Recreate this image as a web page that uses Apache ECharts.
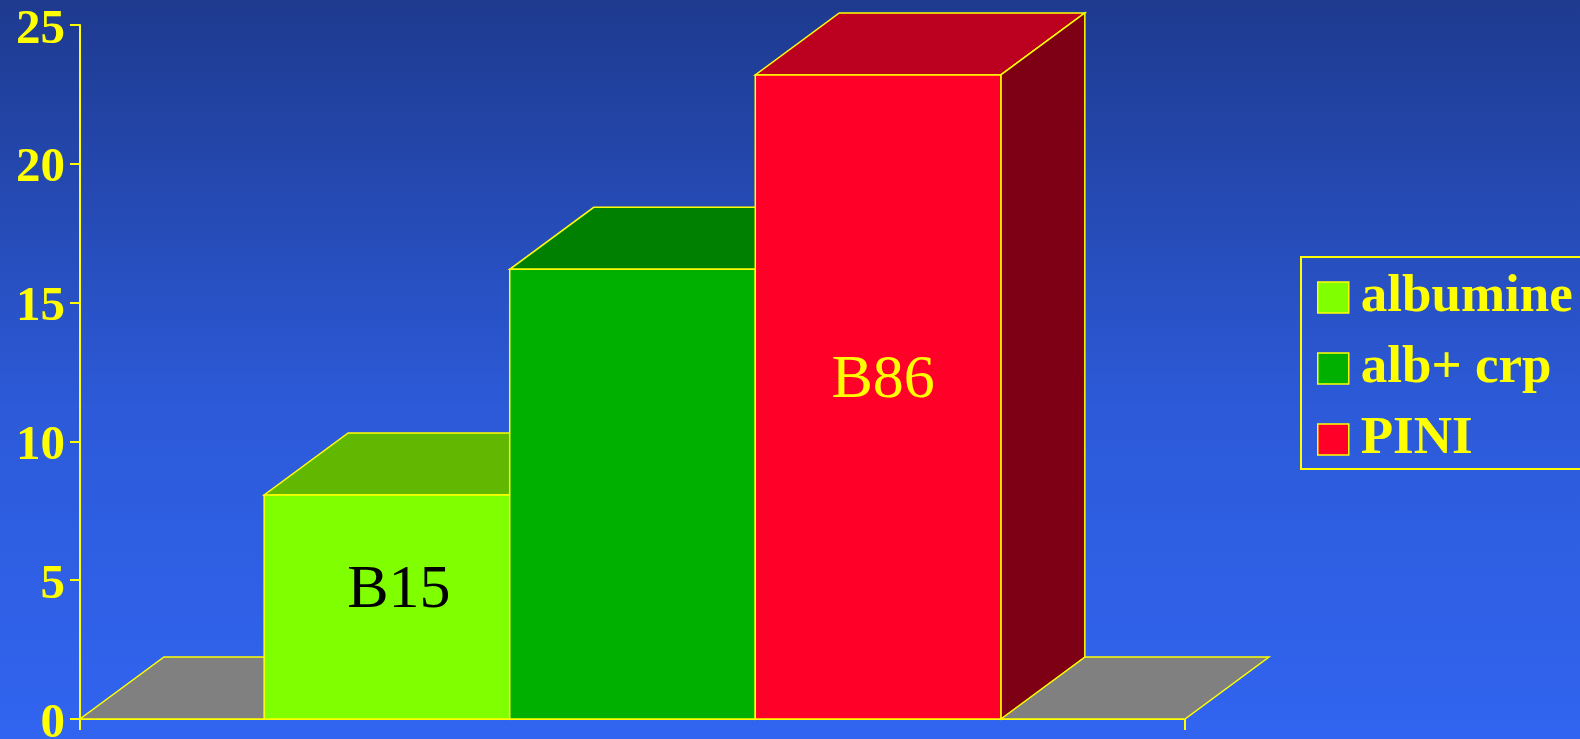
<!DOCTYPE html>
<html>
<head>
<meta charset="utf-8">
<script src="https://cdn.jsdelivr.net/npm/echarts@6/dist/echarts.min.js"></script>
<style>
  html, body { margin: 0; padding: 0; }
  #chart { width: 1580px; height: 739px; }
</style>
</head>
<body>
<div id="chart"></div>
<script>
// ---- data ----
var categories = [''];
var seriesNames = ['albumine', 'alb+ crp', 'PINI'];
var seriesValues = [8.07, 16.2, 23.2];
var barLabels = ['B15', '', 'B86'];
var barLabelValues = [4.63, 0, 12.2];
var yTicks = [0, 5, 10, 15, 20, 25];

// ---- styles ----
var frontColors = ['#80FF00', '#00B000', '#FF0029'];
var topColors = ['#62B800', '#008000', '#BC0020'];
var sideColors = ['#4A8C00', '#006000', '#7D0015'];
var labelColors = ['#000000', '#FFFF00', '#FFFF00'];
var labelDx = [12, 0, 5];
var EDGE = '#FFFF00';
var DX = 84, DY = 62;

var chart = echarts.init(document.getElementById('chart'));

function barSeries(idx) {
  return {
    type: 'custom',
    name: seriesNames[idx],
    z: 3 + idx,
    itemStyle: { color: frontColors[idx] },
    data: [[0, seriesValues[idx]]],
    renderItem: function (params, api) {
      var base = api.coord([api.value(0), 0]);
      var top = api.coord([api.value(0), api.value(1)]);
      var band = api.size([1, 0])[0];
      var w = band * 2 / 9;
      var x0 = base[0] - 1.5 * w + idx * w;
      var x1 = x0 + w;
      var yb = base[1], yt = top[1];
      var lineStyle = { stroke: EDGE, lineWidth: 1.5 };
      var children = [
        { type: 'polygon', shape: { points: [[x0, yt], [x1, yt], [x1 + DX, yt - DY], [x0 + DX, yt - DY]] },
          style: Object.assign({ fill: topColors[idx] }, lineStyle) },
        { type: 'polygon', shape: { points: [[x1, yt], [x1 + DX, yt - DY], [x1 + DX, yb - DY], [x1, yb]] },
          style: Object.assign({ fill: sideColors[idx] }, lineStyle) },
        { type: 'rect', shape: { x: x0, y: yt, width: w, height: yb - yt },
          style: Object.assign({ fill: frontColors[idx] }, lineStyle) }
      ];
      if (barLabels[idx]) {
        var lp = api.coord([api.value(0), barLabelValues[idx]]);
        children.push({
          type: 'text',
          style: {
            x: (x0 + x1) / 2 + labelDx[idx], y: lp[1],
            text: barLabels[idx],
            fill: labelColors[idx],
            font: 'normal 62px "Liberation Serif"',
            align: 'center', verticalAlign: 'middle'
          }
        });
      }
      return { type: 'group', children: children };
    }
  };
}

var floorSeries = {
  type: 'custom',
  name: 'floor',
  z: 2,
  silent: true,
  data: [[0, 0]],
  renderItem: function (params, api) {
    var base = api.coord([api.value(0), 0]);
    var band = api.size([1, 0])[0];
    var xl = base[0] - band / 2, xr = base[0] + band / 2, y = base[1];
    return {
      type: 'polygon',
      shape: { points: [[xl, y], [xr, y], [xr + DX, y - DY], [xl + DX, y - DY]] },
      style: { fill: '#808080', stroke: EDGE, lineWidth: 1.5 }
    };
  }
};

var option = {
  animation: false,
  backgroundColor: {
    type: 'linear', x: 0, y: 0, x2: 0, y2: 1,
    colorStops: [
      { offset: 0, color: '#1E3A8F' },
      { offset: 0.55, color: '#2C5AD8' },
      { offset: 1, color: '#3164F0' }
    ]
  },
  grid: { left: 80, right: 395, top: 25, bottom: 20, containLabel: false, outerBoundsMode: 'none' },
  xAxis: {
    type: 'category',
    data: categories,
    boundaryGap: true,
    axisLine: { lineStyle: { color: EDGE, width: 2 } },
    axisTick: { show: true, length: 11, lineStyle: { color: EDGE, width: 2 } },
    axisLabel: { show: false }
  },
  yAxis: {
    type: 'value',
    min: yTicks[0],
    max: yTicks[yTicks.length - 1],
    interval: 5,
    splitLine: { show: false },
    axisLine: { show: true, lineStyle: { color: EDGE, width: 2 } },
    axisTick: { show: true, length: 10, lineStyle: { color: EDGE, width: 2 } },
    axisLabel: {
      margin: 15,
      formatter: '{t|{value}}',
      rich: {
        t: {
          color: '#FFFF00',
          fontFamily: 'Liberation Serif',
          fontWeight: 'bold',
          fontSize: 49,
          lineHeight: 49,
          padding: [10, 0, 0, 0]
        }
      }
    }
  },
  legend: {
    orient: 'vertical',
    left: 1301,
    top: 257,
    padding: [14, 40, 3, 16],
    borderColor: EDGE,
    borderWidth: 2,
    itemWidth: 31,
    itemHeight: 31,
    itemGap: 18,
    icon: 'rect',
    textStyle: {
      color: '#FFFF00',
      fontFamily: 'Liberation Serif',
      fontWeight: 'bold',
      fontSize: 53,
      padding: [0, 0, 0, 7]
    },
    data: seriesNames.map(function (n, i) {
      return { name: n, itemStyle: { color: frontColors[i], borderColor: EDGE, borderWidth: 1.5 } };
    })
  },
  series: [floorSeries, barSeries(0), barSeries(1), barSeries(2)]
};

chart.setOption(option);
</script>
</body>
</html>
